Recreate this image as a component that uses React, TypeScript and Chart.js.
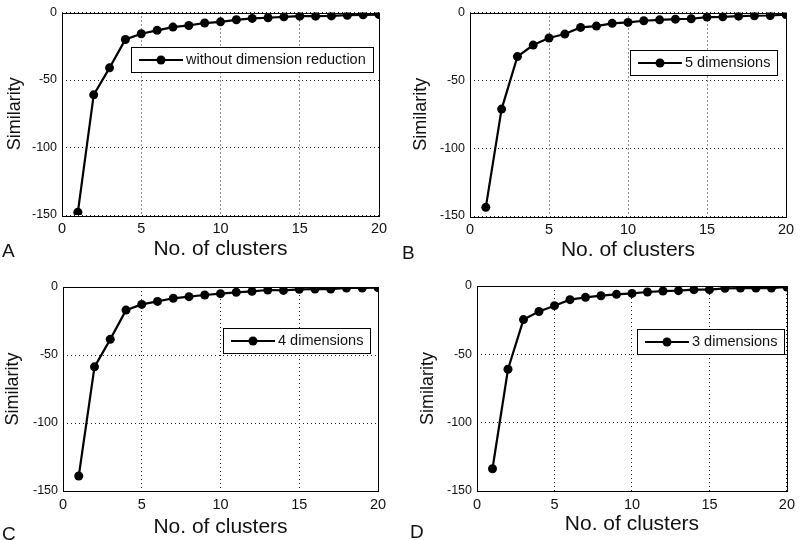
import React, { useEffect, useRef } from "react";
import { Chart, registerables } from "chart.js";

Chart.register(...registerables);

// ---- data ----
const clusters = [1, 2, 3, 4, 5, 6, 7, 8, 9, 10, 11, 12, 13, 14, 15, 16, 17, 18, 19, 20];
const xTicks = [0, 5, 10, 15, 20];
const yTicks = [-150, -100, -50, 0];

const seriesA = [-148, -61, -41, -20, -15.7, -13.2, -10.8, -9.6, -7.8, -6.9, -5.4, -4.4, -3.9, -3.2, -2.7, -2.7, -2.5, -2, -1.7, -1.5];
const seriesB = [-143.6, -71.2, -32.5, -24, -18.8, -15.9, -11, -10, -8, -7.3, -6.1, -5.4, -4.9, -4.6, -3.4, -3.2, -2.7, -2.4, -2.2, -1.5];
const seriesC = [-139, -58.7, -38.5, -17, -12.8, -10.6, -8.3, -7.1, -5.9, -4.9, -3.9, -3.2, -2.2, -2.5, -1.7, -1.5, -1.5, -0.7, -0.7, -0.5];
const seriesD = [-133.7, -60.9, -24.6, -18.7, -14.4, -10, -8.3, -7.1, -6.1, -5.4, -4.4, -3.7, -3.4, -2.7, -2.7, -1.7, -1.5, -1.5, -1.5, -0.7];

const legendLabels = ["without dimension reduction", "5 dimensions", "4 dimensions", "3 dimensions"];
const panelLetters = ["A", "B", "C", "D"];
const xTitle = "No. of clusters";
const yTitle = "Similarity";

// ---- layout ----
const W = 400;
const H = 270;
const FONT = "'Liberation Sans', Arial, Helvetica, sans-serif";

type Geo = {
  left: number;
  top: number;
  l: number;
  t: number;
  r: number;
  b: number;
  xTitleY: number;
  yTitleX: number;
  legendInset: number;
  legendTop: number;
  letterX: number;
  letterY: number;
};

const geos: Geo[] = [
  { left: 0, top: 0, l: 62, t: 11, r: 379, b: 215, xTitleY: 249, yTitleX: 15, legendInset: 6, legendTop: 34, letterX: 2, letterY: 250 },
  { left: 400, top: 0, l: 70, t: 12, r: 386, b: 216, xTitleY: 250, yTitleX: 21, legendInset: 9, legendTop: 37, letterX: 2, letterY: 252 },
  { left: 0, top: 270, l: 63, t: 17, r: 378, b: 221, xTitleY: 257, yTitleX: 13, legendInset: 8, legendTop: 41, letterX: 2, letterY: 263 },
  { left: 400, top: 270, l: 77, t: 16, r: 392, b: 221, xTitleY: 254, yTitleX: 28, legendInset: 3, legendTop: 43, letterX: 10, letterY: 261 },
];

function Panel({ values, label, geo, letter }: { values: number[]; label: string; geo: Geo; letter: string }) {
  const ref = useRef<HTMLCanvasElement>(null);

  useEffect(() => {
    const canvas = ref.current;
    if (!canvas) return;
    const points = clusters.map((c, i) => ({ x: c, y: values[i] }));

    const framePlugin = {
      id: "frame",
      afterDraw(chart: any) {
        const { ctx, chartArea } = chart;
        ctx.save();
        ctx.strokeStyle = "#000";
        ctx.lineWidth = 1;
        ctx.strokeRect(
          Math.round(chartArea.left) + 0.5,
          Math.round(chartArea.top) + 0.5,
          Math.round(chartArea.right - chartArea.left),
          Math.round(chartArea.bottom - chartArea.top)
        );
        ctx.restore();
      },
    };

    const legendPlugin = {
      id: "boxLegend",
      afterDraw(chart: any) {
        const { ctx, chartArea } = chart;
        ctx.save();
        ctx.font = `14.5px ${FONT}`;
        const tw = ctx.measureText(label).width;
        const bw = Math.round(55 + tw + 7);
        const bh = 25;
        const bx = Math.round(chartArea.right - geo.legendInset - bw);
        const by = Math.round(chartArea.top + geo.legendTop);
        ctx.fillStyle = "#fff";
        ctx.fillRect(bx, by, bw, bh);
        ctx.strokeStyle = "#000";
        ctx.lineWidth = 1;
        ctx.strokeRect(bx + 0.5, by + 0.5, bw, bh);
        const cy = by + bh / 2 + 0.5;
        ctx.lineWidth = 2;
        ctx.beginPath();
        ctx.moveTo(bx + 8, cy);
        ctx.lineTo(bx + 52, cy);
        ctx.stroke();
        ctx.beginPath();
        ctx.arc(bx + 30, cy, 4.5, 0, Math.PI * 2);
        ctx.fillStyle = "#000";
        ctx.fill();
        ctx.fillStyle = "#111";
        ctx.textBaseline = "middle";
        ctx.textAlign = "left";
        ctx.fillText(label, bx + 55, cy);
        ctx.restore();
      },
    };

    const chart = new Chart(canvas, {
      type: "line",
      data: {
        datasets: [
          {
            label,
            data: points,
            borderColor: "#000",
            backgroundColor: "#000",
            borderWidth: 2.2,
            pointRadius: 4.5,
            pointBackgroundColor: "#000",
            pointBorderColor: "#000",
            pointBorderWidth: 0,
            tension: 0,
          },
        ],
      },
      options: {
        responsive: false,
        animation: false,
        devicePixelRatio: 1,
        layout: { padding: { left: 0, top: geo.t, right: W - geo.r, bottom: 0 } },
        plugins: { legend: { display: false }, tooltip: { enabled: false } },
        scales: {
          x: {
            type: "linear",
            min: 0,
            max: 20,
            afterBuildTicks: (s: any) => {
              s.ticks = xTicks.map((v) => ({ value: v }));
            },
            afterFit: (s: any) => {
              s.height = H - geo.b;
            },
            grid: { color: "#222", lineWidth: 1, drawTicks: false },
            border: { display: false, dash: [1, 3] },
            ticks: { padding: 5, color: "#111", font: { family: FONT, size: 14.5 }, maxRotation: 0 },
            title: {
              display: true,
              text: xTitle,
              color: "#111",
              font: { family: FONT, size: 21, lineHeight: 1.2 },
              padding: { top: 0, bottom: Math.max(0, 257.4 - geo.xTitleY) },
            },
          },
          y: {
            type: "linear",
            min: -150,
            max: 0,
            afterBuildTicks: (s: any) => {
              s.ticks = yTicks.map((v) => ({ value: v }));
            },
            afterFit: (s: any) => {
              s.width = geo.l;
            },
            grid: { color: "#222", lineWidth: 1, drawTicks: false },
            border: { display: false, dash: [1, 3] },
            ticks: { padding: 5, color: "#111", font: { family: FONT, size: 12.5 } },
            title: {
              display: true,
              text: yTitle,
              color: "#111",
              font: { family: FONT, size: 18, lineHeight: 1.2 },
              padding: { top: Math.max(0, geo.yTitleX - 10.8), bottom: 0 },
            },
          },
        },
      },
      plugins: [framePlugin, legendPlugin],
    } as any);

    return () => chart.destroy();
  }, [values, label, geo]);

  return (
    <div style={{ position: "absolute", left: geo.left, top: geo.top, width: W, height: H }}>
      <canvas ref={ref} width={W} height={H} style={{ display: "block", width: W, height: H }} />
      <div
        style={{
          position: "absolute",
          left: geo.letterX,
          top: geo.letterY - 9.3,
          fontFamily: FONT,
          fontSize: 19,
          lineHeight: "19px",
          color: "#111",
        }}
      >
        {letter}
      </div>
    </div>
  );
}

const allSeries = [seriesA, seriesB, seriesC, seriesD];

export default function App() {
  return (
    <div
      style={{
        position: "fixed",
        left: 0,
        top: 0,
        width: 800,
        height: 540,
        background: "#fff",
        overflow: "hidden",
      }}
    >
      {allSeries.map((s, i) => (
        <Panel key={i} values={s} label={legendLabels[i]} geo={geos[i]} letter={panelLetters[i]} />
      ))}
    </div>
  );
}
